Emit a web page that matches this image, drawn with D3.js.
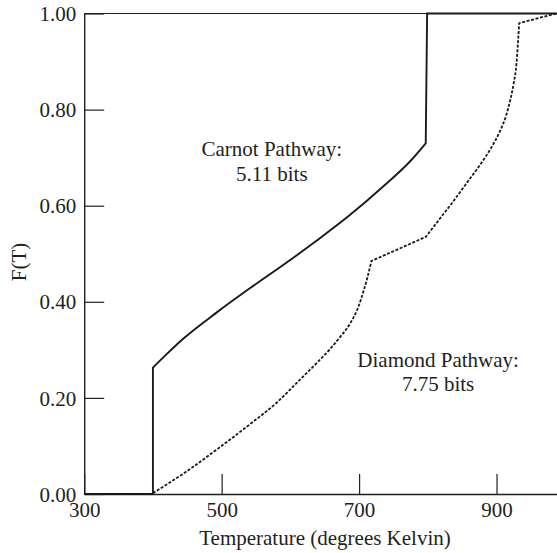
<!DOCTYPE html>
<html><head><meta charset="utf-8">
<script src="https://cdn.jsdelivr.net/npm/d3@7"></script>
<style>body{margin:0;background:#fff}svg{display:block}</style>
</head><body>
<svg id="c" width="557" height="553"></svg>
<script>
const xTicks = [300, 500, 700, 900];
const yTicks = [0, 0.2, 0.4, 0.6, 0.8, 1.0];
// Carnot pathway: flat, jump, smooth rise, jump, flat
const carnotLowT = [300, 400];
const carnotLowF = [0, 0];
const carnotCurveT = [400, 420, 444, 493, 541, 590, 638, 687, 735, 774, 797];
const carnotCurveF = [0.263, 0.291, 0.323, 0.378, 0.428, 0.477, 0.527, 0.581, 0.64, 0.692, 0.73];
const carnotHighT = [799, 990];
const carnotHighF = [1.0, 1.0];
// Diamond pathway
const diamondLowT = [300, 398];
const diamondLowF = [0, 0];
const diamondCurve1T = [398, 450, 497, 541, 580, 614, 640, 658, 672, 687, 698, 706, 712, 718];
const diamondCurve1F = [0, 0.048, 0.097, 0.145, 0.19, 0.238, 0.275, 0.302, 0.326, 0.355, 0.386, 0.42, 0.45, 0.485];
const diamondCurve2T = [797, 817, 837, 857, 876, 892, 905, 914, 920, 925, 929, 931, 933];
const diamondCurve2F = [0.535, 0.572, 0.609, 0.648, 0.685, 0.72, 0.755, 0.788, 0.82, 0.855, 0.895, 0.935, 0.98];
const diamondEndT = [933, 987];
const diamondEndF = [0.98, 1.0];
const labels = [
  {lines: ["Carnot Pathway:", "5.11 bits"], t: 573, f: 0.703},
  {lines: ["Diamond Pathway:", "7.75 bits"], t: 815, f: 0.265}
];

const svg = d3.select("#c");
const font = "'Liberation Serif', 'DejaVu Serif', serif";
const col = "#231f20";
const fs = "21px";
const x = d3.scaleLinear().domain([300, 988]).range([84.2, 557]);
const y = d3.scaleLinear().domain([0, 1]).range([494, 13.5]);

svg.append("line").attr("x1", x(300)).attr("x2", 557).attr("y1", y(1)).attr("y2", y(1))
  .attr("stroke", col).attr("stroke-width", 1.2);

const ya = svg.append("g").attr("transform", `translate(${x(300)},0)`)
  .call(d3.axisLeft(y).tickValues(yTicks).tickFormat(d3.format(".2f")).tickSizeInner(-20).tickSizeOuter(0));
const xa = svg.append("g").attr("transform", `translate(0,${y(0)})`)
  .call(d3.axisBottom(x).tickValues(xTicks).tickFormat(d3.format("d")).tickSizeInner(-20).tickSizeOuter(0));
[ya, xa].forEach(a => {
  a.select(".domain").attr("stroke", col).attr("stroke-width", 1.4);
  a.selectAll(".tick line").attr("stroke", col).attr("stroke-width", 1.2);
  a.selectAll("text").attr("fill", col).style("font-family", font).style("font-size", fs);
});
ya.selectAll(".tick text").attr("x", -8).attr("dy", "0.34em");
xa.selectAll(".tick text").attr("y", 0).attr("dy", 0).attr("transform", "translate(0,22.5)");

const zip = (a, b) => a.map((t, i) => [t, b[i]]);
const lin = d3.line().x(d => x(d[0])).y(d => y(d[1]));
const smooth = d3.line().x(d => x(d[0])).y(d => y(d[1])).curve(d3.curveMonotoneX);
const joinPath = parts => parts.map((p, i) => {
  const s = p[1](p[0]);
  return i === 0 ? s : s.replace(/^M/, "L");
}).join("");

const carnotD = joinPath([
  [zip(carnotLowT, carnotLowF), lin],
  [zip(carnotCurveT, carnotCurveF), smooth],
  [zip(carnotHighT, carnotHighF), lin]
]);
const diamondD = joinPath([
  [zip(diamondLowT, diamondLowF), lin],
  [zip(diamondCurve1T, diamondCurve1F), smooth],
  [zip(diamondCurve2T, diamondCurve2F), smooth],
  [zip(diamondEndT, diamondEndF), lin]
]);

svg.append("path").attr("d", carnotD).attr("fill", "none").attr("stroke", "#1a1a1a")
  .attr("stroke-width", 1.9).attr("stroke-linejoin", "miter");
svg.append("path").attr("d", diamondD).attr("fill", "none").attr("stroke", "#1a1a1a")
  .attr("stroke-width", 1.8).attr("stroke-dasharray", "3,1.6");

labels.forEach(l => {
  const t = svg.append("text").attr("text-anchor", "middle").attr("fill", col)
    .style("font-family", font).style("font-size", fs);
  l.lines.forEach((s, i) => t.append("tspan").attr("x", x(l.t)).attr("y", y(l.f) + i * 24.5).text(s));
});

svg.append("text").attr("x", 325).attr("y", 545).attr("text-anchor", "middle").attr("fill", col)
  .style("font-family", font).style("font-size", fs).text("Temperature (degrees Kelvin)");
svg.append("text").attr("transform", "translate(26,262) rotate(-90)").attr("text-anchor", "middle").attr("fill", col)
  .style("font-family", font).style("font-size", fs).text("F(T)");
</script>
</body></html>
